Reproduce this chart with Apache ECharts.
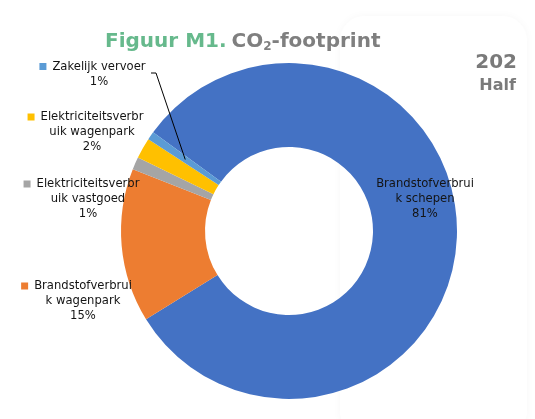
<!DOCTYPE html>
<html>
<head>
<meta charset="utf-8">
<script src="https://cdn.jsdelivr.net/npm/echarts@6/dist/echarts.min.js"></script>
<style>
html,body{margin:0;padding:0;background:#fff;}
#c{width:535px;height:419px;}
</style>
</head>
<body>
<div id="c"></div>
<script>
// ---- data ----
const categories = ['Brandstofverbruik schepen', 'Brandstofverbruik wagenpark', 'Elektriciteitsverbruik vastgoed', 'Elektriciteitsverbruik wagenpark', 'Zakelijk vervoer'];
const values = [81.2, 14.8, 1.2, 2.0, 0.8];
const colors = ['#4472C4', '#ED7D31', '#A5A5A5', '#FFC000', '#5B9BD5'];
const wrapAt = [16, 16, 19, 19, 99];
const showKey = [false, true, true, true, true];

// ---- layout (label placement, not data) ----
const center = [289, 231];
const radii = [84, 168];
const startAngle = 144;
const labelPos = [[425, 199], [83, 301], [88, 199], [92, 132], [99, 74]];
const leaderIndex = 4;

const total = values.reduce((a, b) => a + b, 0);

function midPoint(idx) {
  let cum = 0;
  for (let i = 0; i < idx; i++) cum += values[i];
  const ang = (startAngle - (cum + values[idx] / 2) / total * 360) * Math.PI / 180;
  const r = (radii[0] + radii[1]) / 2;
  return [center[0] + r * Math.cos(ang), center[1] - r * Math.sin(ang)];
}

const textStyle = { fontFamily: 'DejaVu Sans', fontSize: 11.6, color: '#141414', lineHeight: 15 };

const data = categories.map((name, i) => {
  const l1 = name.slice(0, wrapAt[i]);
  const l2 = name.slice(wrapAt[i]);
  const pct = Math.round(values[i] / total * 100) + '%';
  let first = showKey[i] ? '{sq|}{gap|}{t|' + l1 + '}{pad|}' : '{t|' + l1 + '}';
  const lines = [first];
  if (l2) lines.push('{t|' + l2 + '}');
  lines.push('{t|' + pct + '}');
  return {
    name: name,
    value: values[i],
    itemStyle: { color: colors[i] },
    label: {
      formatter: lines.join('\n'),
      rich: {
        t: textStyle,
        sq: { width: 7, height: 7, backgroundColor: colors[i] },
        gap: { width: 6 },
        pad: { width: 13 }
      }
    }
  };
});

const lp = labelPos[leaderIndex];
const leaderStart = [lp[0] + 52, lp[1] - 1];
const leaderEnd = midPoint(leaderIndex);

const chart = echarts.init(document.getElementById('c'), null, { renderer: 'canvas' });
chart.setOption({
  backgroundColor: '#fff',
  animation: false,
  title: {
    left: 100,
    top: 26,
    text: '{g|Figuur M1.} {k|CO}{s|2}{k|-footprint}',
    textStyle: {
      rich: {
        g: { fontFamily: 'DejaVu Sans', fontWeight: 'bold', fontSize: 20, color: '#66b98c' },
        k: { fontFamily: 'DejaVu Sans', fontWeight: 'bold', fontSize: 20, color: '#7f7f7f' },
        s: { fontFamily: 'DejaVu Sans', fontWeight: 'bold', fontSize: 12, color: '#7f7f7f', verticalAlign: 'bottom', padding: [10, 0, 0, 0] }
      }
    }
  },
  graphic: [
    {
      type: 'rect', z: -10, silent: true,
      shape: { x: 340, y: 16, width: 187, height: 420, r: 24 },
      style: { fill: '#fff', shadowColor: 'rgba(0,0,0,0.035)', shadowBlur: 8 }
    },
    {
      type: 'text', right: 18, top: 53, z: 10,
      style: { text: '202', fontFamily: 'DejaVu Sans', fontWeight: 'bold', fontSize: 20, fill: '#7a7a7a' }
    },
    {
      type: 'text', right: 19, top: 78, z: 10,
      style: { text: 'Half', fontFamily: 'DejaVu Sans', fontWeight: 'bold', fontSize: 16, fill: '#7a7a7a' }
    },
    {
      type: 'polyline', z: 100, silent: true,
      shape: { points: [leaderStart, [leaderStart[0] + 5, leaderStart[1]], leaderEnd] },
      style: { stroke: '#000', lineWidth: 1, fill: null }
    }
  ],
  series: [{
    type: 'pie',
    center: center,
    radius: radii,
    startAngle: startAngle,
    clockwise: true,
    avoidLabelOverlap: false,
    label: { show: true, position: 'outside', align: 'center' },
    labelLine: { show: false },
    itemStyle: { borderWidth: 0 },
    emphasis: { disabled: true },
    data: data,
    labelLayout: function (params) {
      const i = params.dataIndex;
      return { x: labelPos[i][0], y: labelPos[i][1], align: 'center', verticalAlign: 'middle' };
    }
  }]
});
</script>
</body>
</html>
